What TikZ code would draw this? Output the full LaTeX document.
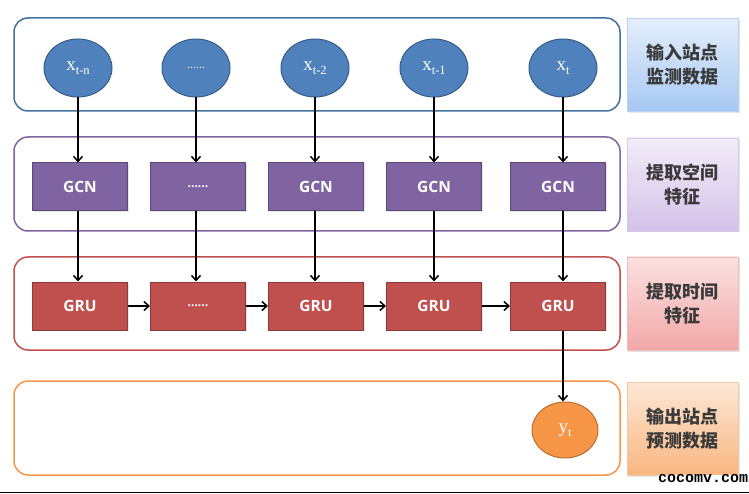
\documentclass[tikz,border=0pt]{standalone}
\usepackage{fontspec}
\setmainfont{Liberation Serif}
\newfontfamily\cjk{Noto Sans CJK SC}
\newfontfamily\boxfont{Open Sans}
\newfontfamily\wmfont{Liberation Mono}
\usetikzlibrary{arrows.meta,shadows,shapes.geometric}
\definecolor{ellblue}{HTML}{4F81BD}
\definecolor{ellbluedk}{HTML}{385D8A}
\definecolor{gcnpur}{HTML}{8064A2}
\definecolor{gcnpurdk}{HTML}{5C4776}
\definecolor{grured}{HTML}{C0504D}
\definecolor{gruReddk}{HTML}{8C3836}
\definecolor{ytor}{HTML}{F79646}
\definecolor{ytordk}{HTML}{B66D31}
\definecolor{c1}{HTML}{41719C}
\definecolor{c2}{HTML}{8064A2}
\definecolor{c3}{HTML}{C0504D}
\definecolor{c4}{HTML}{F79646}
\definecolor{txtgray}{HTML}{3A3A3A}
\definecolor{l1t}{HTML}{E4EEFC}\definecolor{l1b}{HTML}{A6C8F2}\definecolor{l1d}{HTML}{B9D0EE}
\definecolor{l2t}{HTML}{F2ECF8}\definecolor{l2b}{HTML}{D3C2E8}\definecolor{l2d}{HTML}{D8CBE8}
\definecolor{l3t}{HTML}{FCE0E0}\definecolor{l3b}{HTML}{F2A8A8}\definecolor{l3d}{HTML}{EDBDBD}
\definecolor{l4t}{HTML}{FDE8D6}\definecolor{l4b}{HTML}{F9B680}\definecolor{l4d}{HTML}{F0C9A8}
\begin{document}
\begin{tikzpicture}[x=1pt,y=-1pt,
  container/.style={draw, line width=1.5pt, rounded corners=14pt, minimum width=606pt, minimum height=93pt, inner sep=0pt},
  labelbox/.style={line width=0.6pt, minimum width=111pt, minimum height=93pt, inner sep=0pt,
     font=\cjk\bfseries\fontsize{18}{24}\selectfont, text=txtgray, align=center,
     drop shadow={opacity=0.2, shadow xshift=1.5pt, shadow yshift=-1.5pt}},
  inell/.style={ellipse, draw=ellbluedk, fill=ellblue, line width=1pt, minimum width=68pt, minimum height=58pt, inner sep=0pt, text=white},
  outell/.style={ellipse, draw=ytordk, fill=ytor, line width=1pt, minimum width=66pt, minimum height=56pt, inner sep=0pt, text=white},
  gcnbox/.style={rectangle, draw=gcnpurdk, fill=gcnpur, line width=1pt, minimum width=95pt, minimum height=48pt, inner sep=0pt,
     font=\boxfont\bfseries\fontsize{15.5}{15.5}\selectfont, text=white,
     drop shadow={opacity=0.2, shadow xshift=1pt, shadow yshift=-1pt}},
  grubox/.style={gcnbox, draw=gruReddk, fill=grured},
  arr/.style={-{Straight Barb[length=5pt,width=9pt,line width=1.5pt]}, line width=1.7pt, black}
]
\useasboundingbox (0,0) rectangle (749,494);
\newcommand{\xsub}[2]{{\fontsize{19}{19}\selectfont #1}\raisebox{-4.5pt}{\fontsize{12.5}{12.5}\selectfont #2}}
\newcommand{\dotsix}{{\fontsize{12}{12}\selectfont ......}}

% containers
\node[container, draw=c1] (row1) at (317,64.5) {};
\node[container, draw=c2, minimum height=94pt] (row2) at (317,184) {};
\node[container, draw=c3] (row3) at (317,303.5) {};
\node[container, draw=c4, minimum height=94pt] (row4) at (317,428) {};

% label boxes
\node[labelbox, draw=l1d, top color=l1t, bottom color=l1b] (lab1) at (682.5,65) {输入站点\\监测数据};
\node[labelbox, draw=l2d, top color=l2t, bottom color=l2b] (lab2) at (682.5,184.5) {提取空间\\特征};
\node[labelbox, draw=l3d, top color=l3t, bottom color=l3b] (lab3) at (682.5,303.5) {提取时间\\特征};
\node[labelbox, draw=l4d, top color=l4t, bottom color=l4b] (lab4) at (682.5,428.5) {输出站点\\预测数据};

% input ellipses
\node[inell] (x1) at (78,68) {\xsub{x}{t-n}};
\node[inell] (x2) at (196,68) {\dotsix};
\node[inell] (x3) at (315,68) {\xsub{x}{t-2}};
\node[inell] (x4) at (434,68) {\xsub{x}{t-1}};
\node[inell] (x5) at (563,68) {\xsub{x}{t}};

% GCN boxes
\node[gcnbox] (g1) at (80,187) {GCN};
\node[gcnbox] (g2) at (198,187) {\dotsix};
\node[gcnbox] (g3) at (316,187) {GCN};
\node[gcnbox] (g4) at (434,187) {GCN};
\node[gcnbox] (g5) at (558,187) {GCN};

% GRU boxes
\node[grubox] (r1) at (80,306) {GRU};
\node[grubox] (r2) at (198,306) {\dotsix};
\node[grubox] (r3) at (316,306) {GRU};
\node[grubox] (r4) at (434,306) {GRU};
\node[grubox] (r5) at (558,306) {GRU};

% output
\node[outell] (yt) at (565,430) {\xsub{y}{t}};

% arrows
\foreach \i in {1,...,5}{
  \draw[arr] (x\i.south) -- (x\i.south |- g\i.north);
  \draw[arr] (x\i.south |- g\i.south) -- (x\i.south |- r\i.north);
}
\draw[arr] (r1.east) -- (r2.west);
\draw[arr] (r2.east) -- (r3.west);
\draw[arr] (r3.east) -- (r4.west);
\draw[arr] (r4.east) -- (r5.west);
\draw[arr] (x5.south |- r5.south) -- (x5.south |- yt.north);

% watermark and bottom rule
\node[font=\wmfont\bfseries\fontsize{15}{15}\selectfont, inner sep=0pt, fill=white] (wm) at (703,479) {cocomv.com};
\draw[line width=1.5pt] (0,492.5) -- (749,492.5);
\end{tikzpicture}
\end{document}
